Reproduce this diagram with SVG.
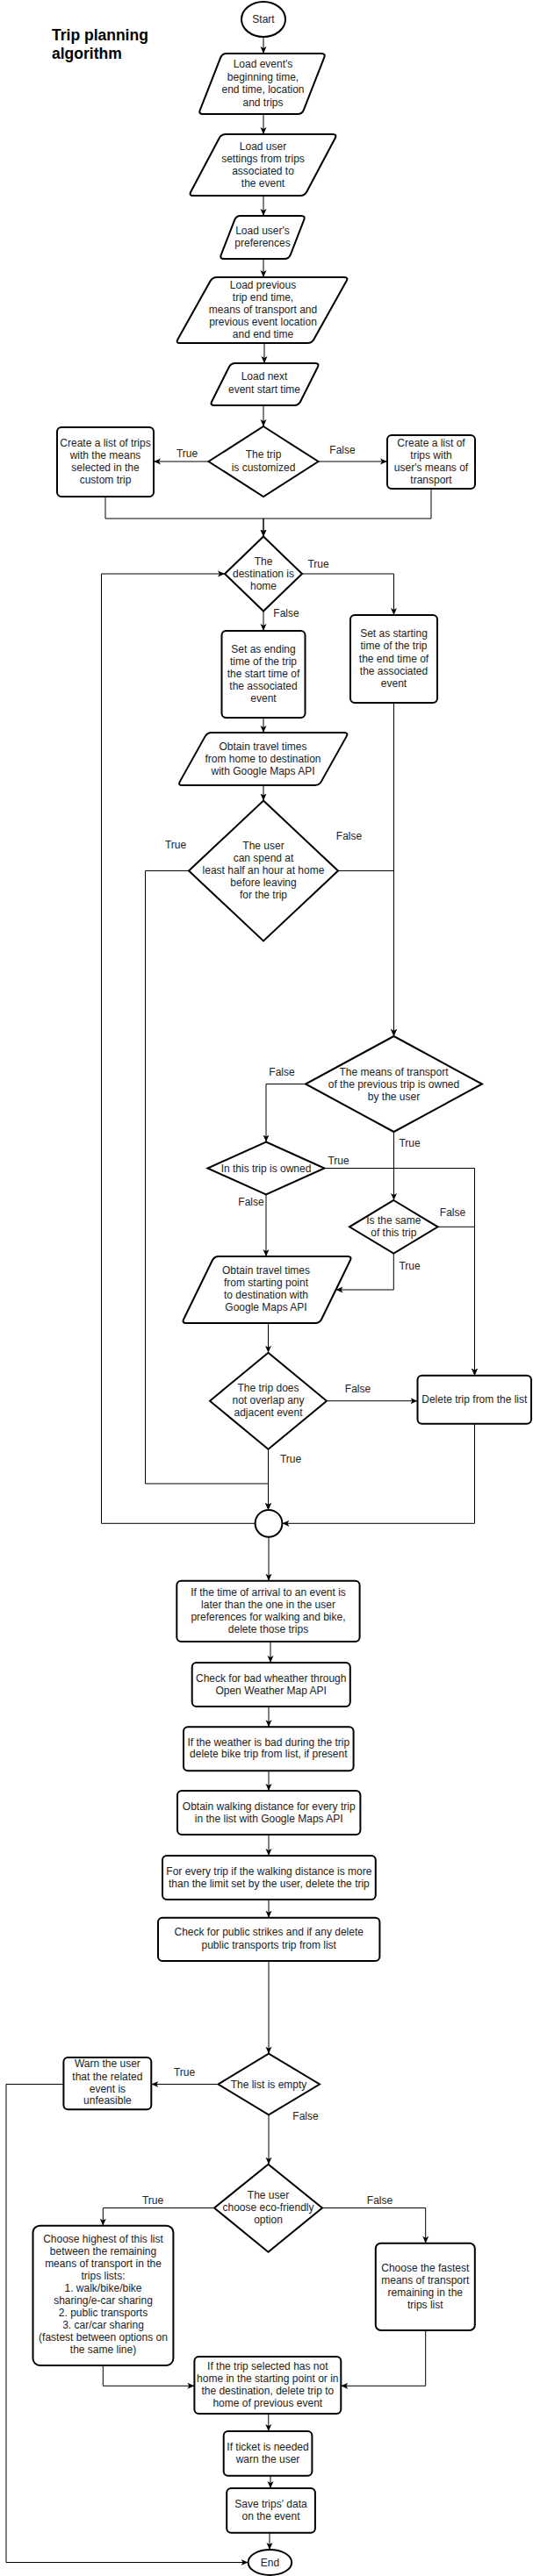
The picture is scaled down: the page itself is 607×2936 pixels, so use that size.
<svg xmlns="http://www.w3.org/2000/svg" width="607" height="2936" viewBox="0 0 607 2936">
<defs>
<marker id="a" viewBox="0 0 8 8" refX="8" refY="4" markerWidth="8" markerHeight="8" markerUnits="userSpaceOnUse" orient="auto"><path d="M0,0.5 L8,4 L0,7.5 L2,4 Z" fill="#000"/></marker>
<style>
.s{fill:#fff;stroke:#000;stroke-width:2}
.e{fill:none;stroke:#000;stroke-width:1;marker-end:url(#a)}
.p{fill:none;stroke:#000;stroke-width:1}
text{font-family:"Liberation Sans",Arial,sans-serif;font-size:12px;fill:#222;text-anchor:middle}
.ti{font-size:17.5px;font-weight:bold;text-anchor:start;fill:#000}
</style>
</defs>
<rect width="607" height="2936" fill="#fff"/>
<g id="title"><text class="ti" x="59" y="46">Trip planning</text><text class="ti" x="59" y="67">algorithm</text></g>
<g id="start"><ellipse class="s" cx="300" cy="22" rx="25" ry="20"/><text x="300" y="26">Start</text></g>
<g id="p1"><path class="s" d="M258,61 H366 Q371,61 369.18,65.66 L345.82,125.34 Q344,130 339,130 H231 Q226,130 227.82,125.34 L251.18,65.66 Q253,61 258,61 Z"/><text><tspan x="299.5" y="77">Load event's</tspan><tspan x="299.5" y="91.5">beginning time,</tspan><tspan x="299.5" y="106">end time, location</tspan><tspan x="299.5" y="120.5">and trips</tspan></text></g>
<g id="p2"><path class="s" d="M257,153 H379 Q384,153 381.66,157.42 L349.34,218.58 Q347,223 342,223 H220 Q215,223 217.34,218.58 L249.66,157.42 Q252,153 257,153 Z"/><text><tspan x="299.5" y="171">Load user</tspan><tspan x="299.5" y="185">settings from trips</tspan><tspan x="299.5" y="199">associated to</tspan><tspan x="299.5" y="213">the event</tspan></text></g>
<g id="p3"><path class="s" d="M274,246 H343 Q348,246 346.19,250.66 L330.81,290.34 Q329,295 324,295 H255 Q250,295 251.81,290.34 L267.19,250.66 Q269,246 274,246 Z"/><text><tspan x="299" y="267">Load user's</tspan><tspan x="299" y="281">preferences</tspan></text></g>
<g id="p4"><path class="s" d="M247,316 H392 Q397,316 394.56,320.36 L357.44,386.64 Q355,391 350,391 H205 Q200,391 202.44,386.64 L239.56,320.36 Q242,316 247,316 Z"/><text><tspan x="299.5" y="329">Load previous</tspan><tspan x="299.5" y="343">trip end time,</tspan><tspan x="299.5" y="357">means of transport and</tspan><tspan x="299.5" y="371">previous event location</tspan><tspan x="299.5" y="385">and end time</tspan></text></g>
<g id="p5"><path class="s" d="M268,414 H359 Q364,414 361.76,418.47 L342.24,457.53 Q340,462 335,462 H244 Q239,462 241.24,457.53 L260.76,418.47 Q263,414 268,414 Z"/><text><tspan x="301" y="433">Load next</tspan><tspan x="301" y="448">event start time</tspan></text></g>
<g id="d1"><polygon class="s" points="300,486 362.5,526 300,566 237.5,526"/><text><tspan x="300" y="522">The trip</tspan><tspan x="300" y="537">is customized</tspan></text></g>
<g id="l1"><rect class="s" x="65" y="487" width="110" height="79" rx="5"/><text><tspan x="120" y="509">Create a list of trips</tspan><tspan x="120" y="523">with the means</tspan><tspan x="120" y="537">selected in the</tspan><tspan x="120" y="551">custom trip</tspan></text></g>
<g id="r1"><rect class="s" x="441" y="496" width="100" height="61" rx="5"/><text><tspan x="491" y="509">Create a list of</tspan><tspan x="491" y="523">trips with</tspan><tspan x="491" y="537">user's means of</tspan><tspan x="491" y="551">transport</tspan></text></g>
<g id="d2"><polygon class="s" points="300,611.5 344,654 300,696.5 256,654"/><text><tspan x="300" y="644">The</tspan><tspan x="300" y="658">destination is</tspan><tspan x="300" y="672">home</tspan></text></g>
<g id="r2"><rect class="s" x="399" y="701" width="99" height="100" rx="5"/><text><tspan x="448.5" y="726">Set as starting</tspan><tspan x="448.5" y="740">time of the trip</tspan><tspan x="448.5" y="754.5">the end time of</tspan><tspan x="448.5" y="768.5">the associated</tspan><tspan x="448.5" y="782.5">event</tspan></text></g>
<g id="c1"><rect class="s" x="252.5" y="719" width="95" height="99" rx="5"/><text><tspan x="300" y="744">Set as ending</tspan><tspan x="300" y="758">time of the trip</tspan><tspan x="300" y="772">the start time of</tspan><tspan x="300" y="786">the associated</tspan><tspan x="300" y="800">event</tspan></text></g>
<g id="p6"><path class="s" d="M241,835 H392 Q397,835 394.56,839.37 L365.94,890.63 Q363.5,895 358.5,895 H207.5 Q202.5,895 204.94,890.63 L233.56,839.37 Q236,835 241,835 Z"/><text><tspan x="299.5" y="855">Obtain travel times</tspan><tspan x="299.5" y="869">from home to destination</tspan><tspan x="299.5" y="883">with Google Maps API</tspan></text></g>
<g id="d3"><polygon class="s" points="300,912.5 385,992.5 300,1072.5 215,992.5"/><text><tspan x="300" y="967.5">The user</tspan><tspan x="300" y="981.5">can spend at</tspan><tspan x="300" y="995.5">least half an hour at home</tspan><tspan x="300" y="1009.5">before leaving</tspan><tspan x="300" y="1023.5">for the trip</tspan></text></g>
<g id="d4"><polygon class="s" points="448.5,1181 549,1235.5 448.5,1290 348,1235.5"/><text><tspan x="448.5" y="1226">The means of transport</tspan><tspan x="448.5" y="1240">of the previous trip is owned</tspan><tspan x="448.5" y="1254">by the user</tspan></text></g>
<g id="d5"><polygon class="s" points="303,1301.5 369.5,1331.5 303,1361.5 236.5,1331.5"/><text x="303" y="1335.5">In this trip is owned</text></g>
<g id="d6"><polygon class="s" points="448.3,1368 498.6,1398.3 448.3,1428.6 398,1398.3"/><text><tspan x="448.3" y="1395">Is the same</tspan><tspan x="448.3" y="1409">of this trip</tspan></text></g>
<g id="p7"><path class="s" d="M249,1432 H396 Q401,1432 398.81,1436.5 L366.19,1503.5 Q364,1508 359,1508 H212 Q207,1508 209.19,1503.5 L241.81,1436.5 Q244,1432 249,1432 Z"/><text><tspan x="303" y="1451.5">Obtain travel times</tspan><tspan x="303" y="1465.5">from starting point</tspan><tspan x="303" y="1479.5">to destination with</tspan><tspan x="303" y="1493.5">Google Maps API</tspan></text></g>
<g id="d7"><polygon class="s" points="305.5,1541.7 372,1596.7 305.5,1651.7 239,1596.7"/><text><tspan x="305.5" y="1586">The trip does</tspan><tspan x="305.5" y="1600">not overlap any</tspan><tspan x="305.5" y="1613.5">adjacent event</tspan></text></g>
<g id="del"><rect class="s" x="475.5" y="1567.7" width="129.5" height="55" rx="5"/><text x="540.3" y="1599">Delete trip from the list</text></g>
<g id="join"><circle class="s" cx="306" cy="1736.3" r="15.4"/></g>
<g id="b1"><rect class="s" x="201.3" y="1801.7" width="208.3" height="69.3" rx="5"/><text><tspan x="305.5" y="1819">If the time of arrival to an event is</tspan><tspan x="305.5" y="1833">later than the one in the user</tspan><tspan x="305.5" y="1847">preferences for walking and bike,</tspan><tspan x="305.5" y="1861">delete those trips</tspan></text></g>
<g id="b2"><rect class="s" x="218.7" y="1895" width="180.1" height="50" rx="5"/><text><tspan x="308.7" y="1916.7">Check for bad wheather through</tspan><tspan x="308.7" y="1930.7">Open Weather Map API</tspan></text></g>
<g id="b3"><rect class="s" x="209" y="1968.3" width="193.6" height="50" rx="5"/><text><tspan x="305.8" y="1989.7">If the weather is bad during the trip</tspan><tspan x="305.8" y="2003.3">delete bike trip from list, if present</tspan></text></g>
<g id="b4"><rect class="s" x="202" y="2041" width="208.4" height="50" rx="5"/><text><tspan x="306.2" y="2063">Obtain walking distance for every trip</tspan><tspan x="306.2" y="2076.7">in the list with Google Maps API</tspan></text></g>
<g id="b5"><rect class="s" x="185" y="2115" width="242.8" height="50" rx="5"/><text><tspan x="306.4" y="2136.7">For every trip if the walking distance is more</tspan><tspan x="306.4" y="2150.7">than the limit set by the user, delete the trip</tspan></text></g>
<g id="b6"><rect class="s" x="180" y="2185.7" width="252.4" height="49.3" rx="5"/><text><tspan x="306.2" y="2206.3">Check for public strikes and if any delete</tspan><tspan x="306.2" y="2220.7">public transports trip from list</tspan></text></g>
<g id="d8"><polygon class="s" points="306,2340.7 364,2375.5 306,2410.3 248.5,2375.5"/><text x="306" y="2379.5">The list is empty</text></g>
<g id="warn"><rect class="s" x="72.4" y="2345" width="99.9" height="59.3" rx="5"/><text><tspan x="122.4" y="2356.3">Warn the user</tspan><tspan x="122.4" y="2370.7">that the related</tspan><tspan x="122.4" y="2384.7">event is</tspan><tspan x="122.4" y="2398.3">unfeasible</tspan></text></g>
<g id="d9"><polygon class="s" points="305.5,2466.7 367,2516.5 305.5,2566.7 244,2516.5"/><text><tspan x="305.5" y="2505.7">The user</tspan><tspan x="305.5" y="2519.7">choose eco-friendly</tspan><tspan x="305.5" y="2534">option</tspan></text></g>
<g id="e1"><rect class="s" x="37.5" y="2536.7" width="159.9" height="159.3" rx="8"/><text><tspan x="117.5" y="2555.7">Choose highest of this list</tspan><tspan x="117.5" y="2569.7">between the remaining</tspan><tspan x="117.5" y="2583.7">means of transport in the</tspan><tspan x="117.5" y="2597.7">trips lists:</tspan><tspan x="117.5" y="2611.7">1. walk/bike/bike</tspan><tspan x="117.5" y="2625.7">sharing/e-car sharing</tspan><tspan x="117.5" y="2639.7">2. public transports</tspan><tspan x="117.5" y="2653.7">3. car/car sharing</tspan><tspan x="117.5" y="2667.7">(fastest between options on</tspan><tspan x="117.5" y="2681.7">the same line)</tspan></text></g>
<g id="e2"><rect class="s" x="427.8" y="2556.7" width="113" height="99.3" rx="6"/><text><tspan x="484.3" y="2589">Choose the fastest</tspan><tspan x="484.3" y="2603.3">means of transport</tspan><tspan x="484.3" y="2617.3">remaining in the</tspan><tspan x="484.3" y="2631">trips list</tspan></text></g>
<g id="f1"><rect class="s" x="221.4" y="2686" width="166.9" height="65" rx="5"/><text><tspan x="304.8" y="2701">If the trip selected has not</tspan><tspan x="304.8" y="2715">home in the starting point or in</tspan><tspan x="304.8" y="2729">the destination, delete trip to</tspan><tspan x="304.8" y="2743">home of previous event</tspan></text></g>
<g id="f2"><rect class="s" x="254.7" y="2771" width="100.7" height="50.7" rx="5"/><text><tspan x="305" y="2793">If ticket is needed</tspan><tspan x="305" y="2806.7">warn the user</tspan></text></g>
<g id="f3"><rect class="s" x="258.2" y="2836" width="100.7" height="50.7" rx="5"/><text><tspan x="308.5" y="2858">Save trips' data</tspan><tspan x="308.5" y="2871.7">on the event</tspan></text></g>
<g id="end"><ellipse class="s" cx="307.4" cy="2920.5" rx="24.8" ry="14.5"/><text x="307.4" y="2924.5">End</text></g>
<g id="connectors">
<path class="e" d="M300,42 V61"/>
<path class="e" d="M300,130 V153"/>
<path class="e" d="M300,223 V246"/>
<path class="e" d="M300,295 V316"/>
<path class="e" d="M301,391 V414"/>
<path class="e" d="M300,462 V486"/>
<path class="e" d="M237.5,526 H175"/>
<path class="e" d="M362.5,526 H441"/>
<path class="e" d="M120,566 V591 H300 V611.5"/>
<path class="e" d="M491,557 V591 H300 V611.5"/>
<path class="e" d="M344,654 H448.5 V701"/>
<path class="e" d="M300,696.5 V719"/>
<path class="e" d="M300,818 V835"/>
<path class="e" d="M300,895 V912.5"/>
<path class="e" d="M215,992.5 H165.5 V1691 H305.5 V1721"/>
<path class="e" d="M385,992.5 H448.5 V1181"/>
<path class="e" d="M448.5,801 V1181"/>
<path class="e" d="M348,1235.5 H303 V1301.5"/>
<path class="e" d="M448.5,1290 V1368"/>
<path class="e" d="M369.5,1331.5 H540.5 V1567.7"/>
<path class="e" d="M303,1361.5 V1432"/>
<path class="e" d="M498.6,1398.3 H540.5 V1567.7"/>
<path class="e" d="M448.3,1428.6 V1470 H382.5"/>
<path class="e" d="M305.5,1508 V1541.7"/>
<path class="e" d="M372,1596.7 H475.5"/>
<path class="e" d="M305.5,1651.7 V1721"/>
<path class="e" d="M540.5,1622.7 V1736.3 H321.4"/>
<path class="e" d="M290.6,1736.3 H115.5 V654 H256"/>
<path class="e" d="M306,1751.7 V1801.7"/>
<path class="e" d="M308,1871 V1895"/>
<path class="e" d="M306,1945 V1968.3"/>
<path class="e" d="M306,2018.3 V2041"/>
<path class="e" d="M306,2091 V2115"/>
<path class="e" d="M306,2165 V2185.7"/>
<path class="e" d="M306,2235 V2340.7"/>
<path class="e" d="M248.5,2375.5 H172.3"/>
<path class="e" d="M72.4,2375.5 H7 V2920.5 H282.6"/>
<path class="e" d="M306,2410.3 V2466.7"/>
<path class="e" d="M244,2516.5 H117.3 V2536.7"/>
<path class="e" d="M367,2516.5 H484.7 V2556.7"/>
<path class="e" d="M117.3,2696 V2719.3 H221.4"/>
<path class="e" d="M484.7,2656 V2719.3 H388.3"/>
<path class="e" d="M305.8,2751 V2771"/>
<path class="e" d="M308,2821.7 V2836"/>
<path class="e" d="M307,2886.7 V2906"/>
<text x="213" y="521">True</text>
<text x="390" y="517">False</text>
<text x="362.5" y="647">True</text>
<text x="326" y="703">False</text>
<text x="200" y="967">True</text>
<text x="397.5" y="957">False</text>
<text x="321" y="1226">False</text>
<text x="466.5" y="1307">True</text>
<text x="385.5" y="1327">True</text>
<text x="286" y="1374">False</text>
<text x="515.5" y="1386">False</text>
<text x="466.5" y="1447">True</text>
<text x="407.5" y="1587">False</text>
<text x="331" y="1667">True</text>
<text x="210" y="2366">True</text>
<text x="348" y="2416">False</text>
<text x="174" y="2512">True</text>
<text x="432.5" y="2512">False</text>
</g>
</svg>
